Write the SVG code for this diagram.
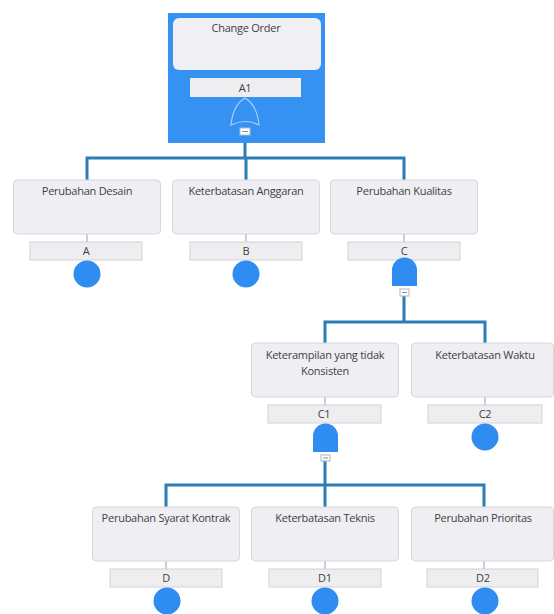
<svg xmlns="http://www.w3.org/2000/svg" width="554" height="614" viewBox="0 0 554 614">
  <style>
    .box { fill: #efeff3; stroke: #d6d6dc; stroke-width: 1; }
    .lbl { fill: #eeeef1; stroke: #d2d2d8; stroke-width: 1; }
    .txt { font-family: "Open Sans", "Liberation Sans", sans-serif; font-size: 11px; fill: #3f3f3f; text-anchor: middle; letter-spacing: -0.25px; }
    .stem { stroke: #b9c1c9; stroke-width: 1.5; fill: none; }
    .wire { stroke: #2d7db5; stroke-width: 3; fill: none; }
    .event { fill: #2f8cf0; }
    .and { fill: #2f8cf0; }
    .minus { fill: #ffffff; stroke: #b0b8c0; stroke-width: 1; }
    .dash { stroke: #8a929a; stroke-width: 1; }
  </style>

  <!-- connectors -->
  <g id="connectors">
    <path class="wire" d="M245,135 V158 M87,180 V158 H404 V180 M246,158 V180"/>
    <path class="wire" d="M404,296 V322 M325,343 V322 H485 V343"/>
    <path class="wire" d="M325,461 V485 M166,507 V485 H484 V507 M325,485 V507"/>
    <path class="stem" d="M87,234 V242 M246,234 V242 M404,234 V242 M325,397 V405 M485,397 V405 M166,561 V569 M325,561 V569 M484,561 V569"/>
  </g>

  <!-- top event, selected -->
  <g id="A1">
    <rect x="168" y="13" width="157" height="130" fill="#3592f2"/>
    <rect x="173" y="18" width="148" height="52" rx="6" fill="#f0f0f4"/>
    <text class="txt" x="246" y="32">Change Order</text>
    <rect x="190" y="78" width="111" height="19" fill="#eeeef1"/>
    <text class="txt" x="245" y="92">A1</text>
    <path d="M231,125 Q233,105 245,98 Q257,105 259,125 Q245,118 231,125 Z" fill="none" stroke="#a9cff7" stroke-width="1.2"/>
    <rect class="minus" x="240" y="128" width="10" height="7"/>
    <line class="dash" x1="242" y1="131.5" x2="248" y2="131.5"/>
  </g>

  <g id="A">
    <rect class="box" x="13.5" y="180" width="147" height="54" rx="4"/>
    <text class="txt" x="87" y="195">Perubahan Desain</text>
    <rect class="lbl" x="30" y="242" width="112" height="18"/>
    <text class="txt" x="86" y="255">A</text>
    <circle class="event" cx="87" cy="274" r="13.5"/>
  </g>

  <g id="B">
    <rect class="box" x="172.5" y="180" width="147" height="54" rx="4"/>
    <text class="txt" x="246" y="195">Keterbatasan Anggaran</text>
    <rect class="lbl" x="190" y="242" width="112" height="18"/>
    <text class="txt" x="246" y="255">B</text>
    <circle class="event" cx="246" cy="274" r="13.5"/>
  </g>

  <g id="C">
    <rect class="box" x="330.5" y="180" width="147" height="54" rx="4"/>
    <text class="txt" x="404" y="195">Perubahan Kualitas</text>
    <rect class="lbl" x="348" y="242" width="112" height="18"/>
    <text class="txt" x="404" y="255">C</text>
    <path class="and" d="M392,286 V270 A12.5,12.5 0 0 1 417,270 V286 Z"/>
    <rect class="minus" x="400" y="289" width="9" height="7"/>
    <line class="dash" x1="402" y1="292.5" x2="407" y2="292.5"/>
  </g>

  <g id="C1">
    <rect class="box" x="251.5" y="343" width="147" height="54" rx="4"/>
    <text class="txt" x="325" y="359">Keterampilan yang tidak</text>
    <text class="txt" x="325" y="375">Konsisten</text>
    <rect class="lbl" x="268" y="405" width="113" height="18"/>
    <text class="txt" x="324" y="418">C1</text>
    <path class="and" d="M313,452 V436 A12.5,12.5 0 0 1 338,436 V452 Z"/>
    <rect class="minus" x="321" y="455" width="9" height="6"/>
    <line class="dash" x1="323" y1="458" x2="328" y2="458"/>
  </g>

  <g id="C2">
    <rect class="box" x="411.5" y="343" width="142" height="54" rx="4"/>
    <text class="txt" x="485" y="359">Keterbatasan Waktu</text>
    <rect class="lbl" x="428" y="405" width="114" height="18"/>
    <text class="txt" x="485" y="418">C2</text>
    <circle class="event" cx="485" cy="437" r="13.5"/>
  </g>

  <g id="D">
    <rect class="box" x="92.5" y="507" width="147" height="54" rx="4"/>
    <text class="txt" x="166" y="522">Perubahan Syarat Kontrak</text>
    <rect class="lbl" x="110" y="569" width="112" height="18"/>
    <text class="txt" x="166" y="582">D</text>
    <circle class="event" cx="167" cy="601" r="13.5"/>
  </g>

  <g id="D1">
    <rect class="box" x="251.5" y="507" width="147" height="54" rx="4"/>
    <text class="txt" x="325" y="522">Keterbatasan Teknis</text>
    <rect class="lbl" x="269" y="569" width="112" height="18"/>
    <text class="txt" x="325" y="582">D1</text>
    <circle class="event" cx="325" cy="601" r="13.5"/>
  </g>

  <g id="D2">
    <rect class="box" x="411.5" y="507" width="142" height="54" rx="4"/>
    <text class="txt" x="483" y="522">Perubahan Prioritas</text>
    <rect class="lbl" x="427" y="569" width="111" height="18"/>
    <text class="txt" x="483" y="582">D2</text>
    <circle class="event" cx="485" cy="601" r="13.5"/>
  </g>
</svg>
